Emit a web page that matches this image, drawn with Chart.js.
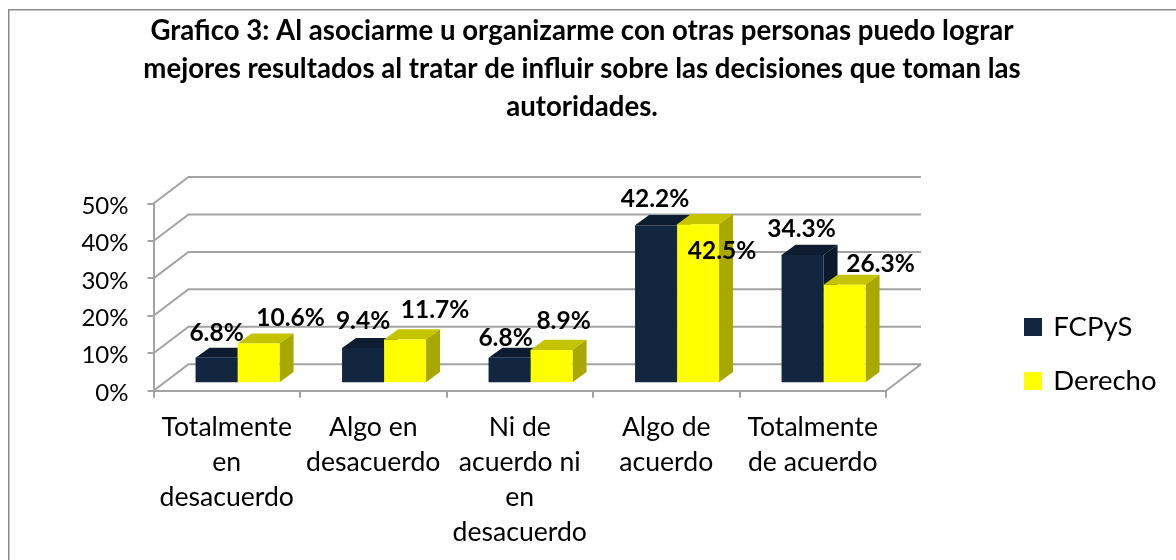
<!DOCTYPE html>
<html><head><meta charset="utf-8">
<style>html,body{margin:0;padding:0;background:#fff}canvas{display:block}</style>
<script src="https://cdn.jsdelivr.net/npm/chart.js@4"></script>
</head><body><canvas id="c" width="1176" height="560"></canvas>
<script>
const categories=[["Totalmente","en","desacuerdo"],["Algo en","desacuerdo"],["Ni de","acuerdo ni","en","desacuerdo"],["Algo de","acuerdo"],["Totalmente","de acuerdo"]];
const fcpys=[6.8,9.4,6.8,42.2,34.3];
const derecho=[10.6,11.7,8.9,42.5,26.3];
const yTicks=[0,10,20,30,40,50];
const titleLines=["Grafico 3: Al asociarme u organizarme con otras personas puedo lograr","mejores resultados al tratar de influir sobre las decisiones que toman las","autoridades."];
const labelOffsets=[[[0,-25],[0,-27],[-4,-20],[-1,-26],[-1,-26]],[[32,-26],[30,-29],[12,-29],[24,27],[36,-21]]];
const FONT="Lato, Carlito, sans-serif";
const GRID="#a3a3a3";
const NAVY="#132640",YELLOW="#ffff00";
const sides=[{top:"#0d1c30",side:"#0b192c"},{top:"#c4c400",side:"#a8a800"}];
const WALL={dx:35,dy:-26.5},SHIFT={dx:10.8,dy:-7.4},DEPTH={dx:14,dy:-10.2};
function swatch(color){const s=document.createElement("canvas");s.width=18;s.height=18;const x=s.getContext("2d");x.fillStyle=color;x.fillRect(0,0,18,18);return s;}
const threeD={id:"threeD",
 beforeDraw(ch){const c=ch.ctx;c.save();c.fillStyle="#fff";c.fillRect(0,0,ch.width,ch.height);c.strokeStyle="#8c8c8c";c.lineWidth=1.5;c.beginPath();c.moveTo(8.75,ch.height+2);c.lineTo(8.75,9.75);c.lineTo(ch.width+2,9.75);c.stroke();c.restore();},
 beforeDatasetsDraw(ch){const c=ch.ctx,y=ch.scales.y,a=ch.chartArea;c.save();c.strokeStyle=GRID;c.lineWidth=2;c.beginPath();
  yTicks.forEach(v=>{const p=y.getPixelForValue(v);c.moveTo(a.left,p);c.lineTo(a.left+WALL.dx,p+WALL.dy);c.lineTo(a.right+WALL.dx,p+WALL.dy);});
  const b=y.getPixelForValue(0);c.moveTo(a.right,b);c.lineTo(a.right+WALL.dx,b+WALL.dy);c.stroke();
  c.translate(SHIFT.dx,SHIFT.dy);
  ch.data.datasets.forEach((d,i)=>{ch.getDatasetMeta(i).data.forEach(el=>{const p=el.getProps(["x","y","width","base"],true);const l=p.x-p.width/2,r=p.x+p.width/2;
   c.fillStyle=sides[i].top;c.beginPath();c.moveTo(l,p.y);c.lineTo(l+DEPTH.dx,p.y+DEPTH.dy);c.lineTo(r+DEPTH.dx,p.y+DEPTH.dy);c.lineTo(r,p.y);c.fill();
   c.fillStyle=sides[i].side;c.beginPath();c.moveTo(r,p.y);c.lineTo(r+DEPTH.dx,p.y+DEPTH.dy);c.lineTo(r+DEPTH.dx,p.base+DEPTH.dy);c.lineTo(r,p.base);c.fill();});});
  c.restore();},
 beforeDatasetDraw(ch){const c=ch.ctx;c.save();c.translate(SHIFT.dx,SHIFT.dy);},
 afterDatasetDraw(ch){ch.ctx.restore();},
 afterDatasetsDraw(ch){const c=ch.ctx;c.save();c.font="bold 24.5px "+FONT;c.fillStyle="#000";c.textAlign="center";c.textBaseline="middle";
  ch.data.datasets.forEach((d,i)=>{ch.getDatasetMeta(i).data.forEach((el,j)=>{const o=labelOffsets[i][j];c.fillText(d.data[j].toFixed(1)+"%",el.x+SHIFT.dx+o[0],el.y+SHIFT.dy+o[1]);});});c.restore();},
 afterLayout(ch){const l=ch.legend;l.left=999;l.right=1176;l.top=287;l.bottom=287+l.height;}
};
new Chart(document.getElementById("c"),{type:"bar",
 data:{labels:categories,datasets:[
  {label:"FCPyS",data:fcpys,backgroundColor:NAVY,pointStyle:swatch(NAVY),clip:false},
  {label:"Derecho",data:derecho,backgroundColor:YELLOW,pointStyle:swatch(YELLOW),clip:false}]},
 plugins:[threeD],
 options:{responsive:false,animation:false,
  layout:{padding:{left:0,right:12,top:12,bottom:0}},
  datasets:{bar:{categoryPercentage:84/146.5,barPercentage:1}},
  plugins:{
   title:{display:true,text:titleLines,color:"#000",font:{family:FONT,size:27.6,weight:"bold",lineHeight:38/27.6},padding:{top:0,bottom:77.5}},
   legend:{position:"chartArea",align:"start",labels:{usePointStyle:true,pointStyleWidth:14,boxHeight:18,padding:26.5,color:"#000",font:{family:FONT,size:27.5}}},
   tooltip:{enabled:false}},
  scales:{
   x:{offset:true,grid:{drawOnChartArea:false,color:GRID,lineWidth:2,tickLength:7,offset:true},border:{color:GRID,width:2},
      ticks:{autoSkip:false,maxRotation:0,minRotation:0,color:"#000",padding:12,font:{family:FONT,size:26.6,lineHeight:35/26.6}},
      afterFit(s){s.height=169.3;}},
   y:{min:0,max:50,grid:{drawOnChartArea:false,color:GRID,lineWidth:2,tickLength:6},border:{color:GRID,width:2},
      ticks:{stepSize:10,color:"#000",padding:19,font:{family:FONT,size:24,lineHeight:5/24},callback:v=>["",v+"%"]},
      afterFit(s){s.width=153.5;}},
   spacer:{type:"linear",position:"right",display:true,grid:{display:false},border:{display:false},ticks:{display:false},afterFit(s){s.width=278;}}
  }}});
</script></body></html>
